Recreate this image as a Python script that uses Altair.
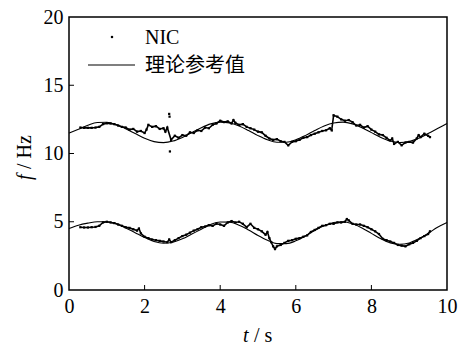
import altair as alt
import pandas as pd

# ---------------- data ----------------
# theoretical reference curves (sampled every 0.25 s)
t_ref = [0.0, 0.25, 0.5, 0.75, 1.0, 1.25, 1.5, 1.75, 2.0, 2.25, 2.5, 2.75, 3.0, 3.25,
         3.5, 3.75, 4.0, 4.25, 4.5, 4.75, 5.0, 5.25, 5.5, 5.75, 6.0, 6.25, 6.5, 6.75,
         7.0, 7.25, 7.5, 7.75, 8.0, 8.25, 8.5, 8.75, 9.0, 9.25, 9.5, 9.75, 10.0]
ref_upper = [11.5, 11.78, 12.07, 12.27, 12.29, 12.12, 11.82, 11.46, 11.11, 10.87, 10.8,
             10.91, 11.18, 11.53, 11.89, 12.17, 12.3, 12.24, 12.02, 11.68, 11.31, 11.0,
             10.82, 10.82, 11.0, 11.31, 11.68, 12.02, 12.24, 12.3, 12.17, 11.89, 11.53,
             11.18, 10.91, 10.8, 10.88, 11.11, 11.46, 11.83, 12.2]
ref_lower = [4.5, 4.75, 4.9, 5.0, 5.0, 4.85, 4.55, 4.2, 3.85, 3.55, 3.42, 3.5, 3.75,
             4.1, 4.45, 4.8, 4.98, 4.97, 4.75, 4.4, 4.0, 3.65, 3.4, 3.4, 3.6, 3.95, 4.35,
             4.7, 4.95, 5.0, 4.85, 4.55, 4.15, 3.75, 3.45, 3.35, 3.45, 3.75, 4.15, 4.6, 4.95]

# NIC estimates
t_nic_up = [0.3, 0.4, 0.5, 0.6, 0.7, 0.8, 0.9, 1.0, 1.1, 1.2, 1.3, 1.4, 1.5, 1.6, 1.7,
            1.8, 1.9, 2.0, 2.05, 2.1, 2.2, 2.3, 2.4, 2.5, 2.55, 2.6, 2.7, 2.8, 2.9, 3.0,
            3.1, 3.2, 3.3, 3.4, 3.5, 3.6, 3.7, 3.8, 3.9, 4.0, 4.1, 4.2, 4.3, 4.35, 4.4,
            4.5, 4.6, 4.7, 4.8, 4.9, 5.0, 5.1, 5.2, 5.3, 5.4, 5.5, 5.6, 5.7, 5.8, 5.9,
            6.0, 6.1, 6.2, 6.3, 6.4, 6.5, 6.6, 6.7, 6.8, 6.9, 6.95, 7.0, 7.1, 7.2, 7.3,
            7.4, 7.5, 7.6, 7.7, 7.8, 7.9, 8.0, 8.1, 8.2, 8.3, 8.4, 8.5, 8.55, 8.6, 8.7,
            8.8, 8.9, 9.0, 9.1, 9.2, 9.25, 9.3, 9.4, 9.5, 9.55]
nic_up = [11.9, 11.88, 11.88, 11.88, 11.9, 11.95, 12.15, 12.22, 12.2, 12.15, 12.05,
          11.95, 11.9, 11.75, 11.8, 11.6, 11.65, 11.5, 11.75, 12.1, 11.95, 12.0, 11.8,
          11.85, 11.6, 11.9, 11.0, 11.3, 11.15, 11.35, 11.3, 11.55, 11.5, 11.7, 11.65,
          11.9, 11.85, 12.1, 12.2, 12.4, 12.3, 12.35, 12.2, 12.45, 12.25, 12.1, 12.15,
          11.95, 11.85, 11.75, 11.6, 11.55, 11.3, 11.1, 11.0, 11.05, 10.9, 10.85, 10.6,
          10.85, 10.9, 11.0, 11.15, 11.2, 11.35, 11.45, 11.55, 11.65, 11.7, 11.85, 11.7,
          12.8, 12.7, 12.5, 12.4, 12.45, 12.3, 12.05, 12.1, 11.9, 12.0, 11.75, 11.6,
          11.4, 11.35, 11.15, 10.95, 11.1, 10.7, 10.85, 10.6, 10.8, 10.85, 10.8, 11.1,
          11.35, 11.2, 11.45, 11.3, 11.2]
t_nic_out = [2.65, 2.66, 2.67]
nic_out = [12.9, 12.7, 10.15]

t_nic_lo = [0.3, 0.4, 0.5, 0.6, 0.7, 0.8, 0.9, 1.0, 1.1, 1.2, 1.3, 1.4, 1.5, 1.6, 1.7,
            1.8, 1.85, 1.9, 2.0, 2.1, 2.2, 2.3, 2.4, 2.5, 2.6, 2.65, 2.7, 2.8, 2.9, 3.0,
            3.1, 3.2, 3.3, 3.4, 3.5, 3.6, 3.7, 3.8, 3.9, 4.0, 4.1, 4.2, 4.3, 4.4, 4.5,
            4.6, 4.7, 4.8, 4.9, 5.0, 5.1, 5.2, 5.25, 5.3, 5.35, 5.4, 5.45, 5.5, 5.6, 5.7,
            5.8, 5.9, 6.0, 6.1, 6.2, 6.3, 6.4, 6.5, 6.6, 6.7, 6.8, 6.9, 7.0, 7.1, 7.2,
            7.3, 7.35, 7.4, 7.5, 7.6, 7.7, 7.8, 7.9, 8.0, 8.1, 8.2, 8.3, 8.4, 8.5, 8.6,
            8.7, 8.8, 8.9, 9.0, 9.1, 9.2, 9.3, 9.4, 9.5, 9.55]
nic_lo = [4.6, 4.58, 4.58, 4.6, 4.62, 4.7, 4.95, 5.0, 4.95, 4.9, 4.8, 4.7, 4.6, 4.55,
          4.45, 4.35, 4.5, 4.15, 3.9, 3.8, 3.7, 3.65, 3.6, 3.55, 3.5, 3.7, 3.5, 3.65,
          3.8, 3.95, 4.05, 4.2, 4.35, 4.45, 4.6, 4.65, 4.75, 4.7, 4.85, 4.8, 4.7, 4.95,
          5.05, 4.95, 5.0, 4.85, 4.6, 4.85, 4.55, 4.45, 4.3, 4.05, 4.25, 3.8, 3.5, 3.2,
          3.0, 3.2, 3.3, 3.45, 3.6, 3.65, 3.75, 3.8, 3.9, 4.0, 4.25, 4.4, 4.55, 4.7,
          4.75, 4.85, 4.85, 4.95, 4.95, 5.0, 5.2, 5.1, 4.85, 4.8, 4.8, 4.7, 4.6, 4.45,
          4.3, 4.1, 3.75, 3.65, 3.55, 3.45, 3.3, 3.25, 3.2, 3.35, 3.45, 3.6, 3.8, 3.95,
          4.1, 4.3]

x_ticks = [0, 2, 4, 6, 8, 10]
y_ticks = [0, 5, 10, 15, 20]
x_inner_ticks = [2, 4, 6, 8]
y_inner_ticks = [5, 10, 15]
legend_labels = ["NIC", "理论参考值"]
x_title_var, x_title_unit = "t", "/ s"
y_title_var, y_title_unit = "f", "/ Hz"

# ---------------- tables ----------------
ref_df = pd.concat([
    pd.DataFrame({"t": t_ref, "f": ref_upper, "s": "u"}),
    pd.DataFrame({"t": t_ref, "f": ref_lower, "s": "l"}),
])
nic_df = pd.concat([
    pd.DataFrame({"t": t_nic_up, "f": nic_up, "s": "u"}),
    pd.DataFrame({"t": t_nic_lo, "f": nic_lo, "s": "l"}),
])
out_df = pd.DataFrame({"t": t_nic_out, "f": nic_out})

W, H = 378, 273
SERIF = "Liberation Serif"
CJK = "Noto Sans CJK SC"

xs = alt.Scale(domain=[0, 10], nice=False, zero=False)
ys = alt.Scale(domain=[0, 20], nice=False)

x_axis = alt.Axis(values=x_ticks, title=None, labelPadding=6)
y_axis = alt.Axis(values=y_ticks, title=None, labelPadding=6)

ref = alt.Chart(ref_df).mark_line(color="black", strokeWidth=1.1, interpolate="monotone").encode(
    x=alt.X("t:Q", scale=xs, axis=x_axis),
    y=alt.Y("f:Q", scale=ys, axis=y_axis),
    detail="s:N",
)

nic_line = alt.Chart(nic_df).mark_line(color="black", strokeWidth=1.6).encode(
    x=alt.X("t:Q", scale=xs, axis=x_axis), y=alt.Y("f:Q", scale=ys, axis=y_axis), detail="s:N"
)
nic_pts = alt.Chart(nic_df).mark_square(color="black", size=5, opacity=1).encode(
    x=alt.X("t:Q", scale=xs, axis=x_axis), y=alt.Y("f:Q", scale=ys, axis=y_axis)
)
out_pts = alt.Chart(out_df).mark_square(color="black", size=5, opacity=1).encode(
    x=alt.X("t:Q", scale=xs, axis=x_axis), y=alt.Y("f:Q", scale=ys, axis=y_axis)
)

xt = alt.Chart(pd.DataFrame({"v": x_inner_ticks})).mark_rule(color="black", strokeWidth=1).encode(
    x=alt.X("v:Q", scale=xs, axis=x_axis), y=alt.value(H), y2=alt.value(H - 5)
)
yt = alt.Chart(pd.DataFrame({"v": y_inner_ticks})).mark_rule(color="black", strokeWidth=1).encode(
    y=alt.Y("v:Q", scale=ys, axis=y_axis), x=alt.value(0), x2=alt.value(5)
)

# legend
leg_dot = alt.Chart(pd.DataFrame({"k": [legend_labels[0]]})).mark_square(
    color="black", size=5, opacity=1).encode(x=alt.value(43), y=alt.value(20))
leg_nic = alt.Chart(pd.DataFrame({"k": [legend_labels[0]]})).mark_text(
    align="left", baseline="middle", font=SERIF, fontSize=20, color="black").encode(
    text="k:N", x=alt.value(76), y=alt.value(21))
leg_line = alt.Chart(pd.DataFrame({"k": [legend_labels[1]]})).mark_rule(
    color="black", strokeWidth=1.1).encode(x=alt.value(19), x2=alt.value(66), y=alt.value(48))
leg_ref = alt.Chart(pd.DataFrame({"k": [legend_labels[1]]})).mark_text(
    align="left", baseline="middle", font=CJK, fontSize=20, color="black").encode(
    text="k:N", x=alt.value(76), y=alt.value(49))

# axis titles (italic variable + upright unit)
xt_var = alt.Chart(pd.DataFrame({"k": [x_title_var]})).mark_text(
    align="left", baseline="alphabetic", font=SERIF, fontSize=20, fontStyle="italic",
    color="black").encode(text="k:N", x=alt.value(174), y=alt.value(325))
xt_unit = alt.Chart(pd.DataFrame({"k": [x_title_unit]})).mark_text(
    align="left", baseline="alphabetic", font=SERIF, fontSize=20, color="black").encode(
    text="k:N", x=alt.value(185), y=alt.value(325))
yt_var = alt.Chart(pd.DataFrame({"k": [y_title_var]})).mark_text(
    align="left", baseline="alphabetic", font=SERIF, fontSize=20, fontStyle="italic",
    angle=270, color="black").encode(text="k:N", x=alt.value(-38), y=alt.value(163))
yt_unit = alt.Chart(pd.DataFrame({"k": [y_title_unit]})).mark_text(
    align="left", baseline="alphabetic", font=SERIF, fontSize=20,
    angle=270, color="black").encode(text="k:N", x=alt.value(-38), y=alt.value(152))

chart = alt.layer(ref, nic_line, nic_pts, out_pts, xt, yt, leg_dot, leg_nic, leg_line, leg_ref,
                  xt_var, xt_unit, yt_var, yt_unit).properties(
    width=W, height=H,
    autosize=alt.AutoSizeParams(type="none"),
    padding={"left": 69, "top": 17, "right": 22, "bottom": 57},
    background="white",
).configure_view(stroke="black", strokeWidth=1.5).configure_axis(
    tickSize=0, domain=False, grid=False,
    labelFont=SERIF, labelFontSize=20, labelColor="black", labelFlush=False,
)

chart.save("out.html", embed_options={"renderer": "svg", "actions": False})
